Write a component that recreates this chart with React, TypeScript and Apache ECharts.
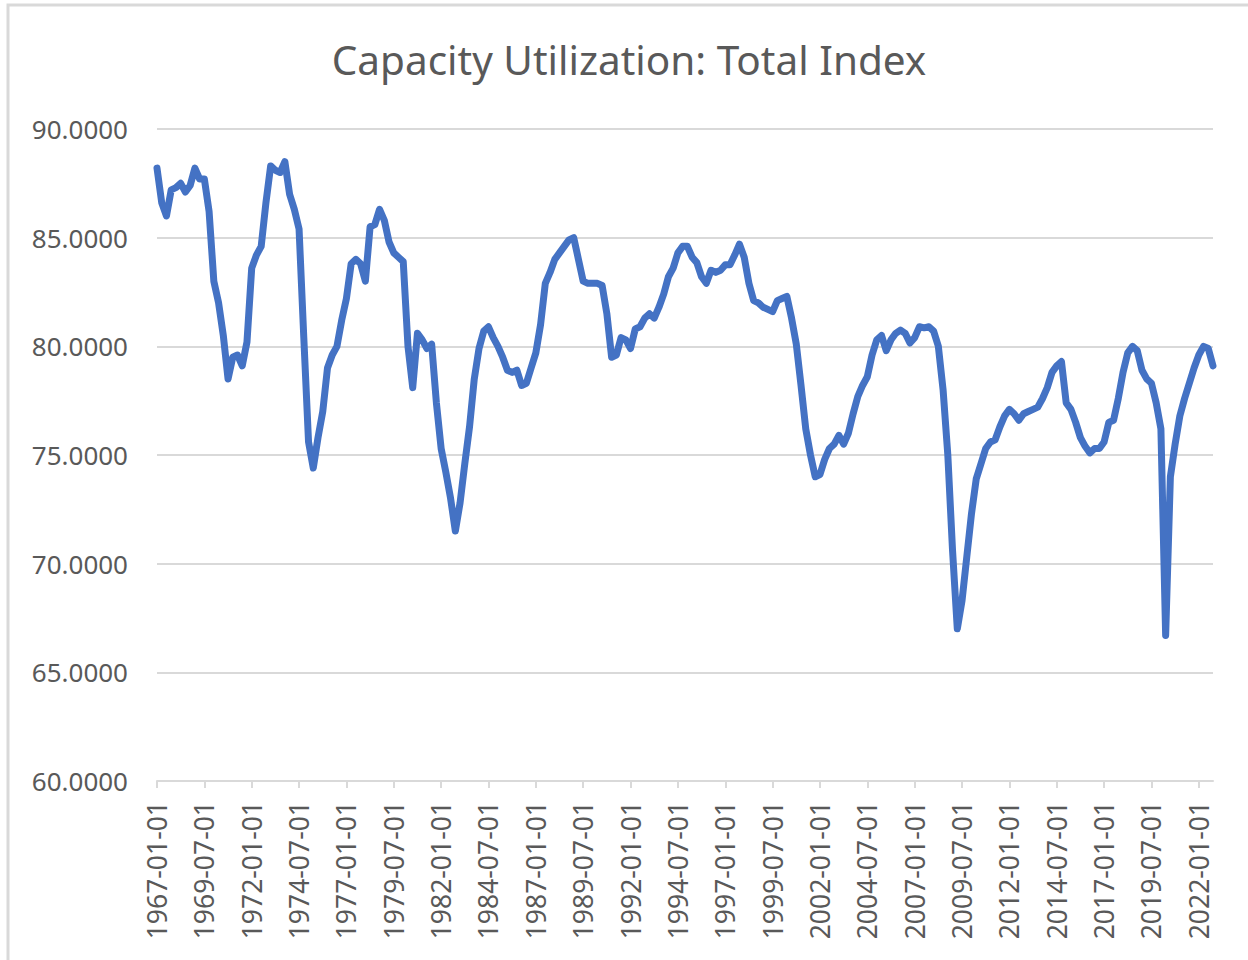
import React, { useEffect, useRef } from "react";
import * as echarts from "echarts";

const titleText = "Capacity Utilization: Total Index";
const startYear = 1967;
const quarterMonths = ["01", "04", "07", "10"];

// Quarterly capacity utilization readings, 1967-01-01 .. 2022-10-01
const values1967_1976 = [
  88.2, 86.6, 86.0, 87.2, 87.3, 87.5, 87.1, 87.4, 88.2, 87.7,
  87.7, 86.2, 83.0, 82.0, 80.5, 78.5, 79.5, 79.6, 79.1, 80.2,
  83.6, 84.2, 84.6, 86.6, 88.3, 88.1, 88.0, 88.5, 87.0, 86.3,
  85.4, 80.4, 75.6, 74.4, 75.8, 77.0, 79.0, 79.6, 80.0, 81.2,
];
const values1977_1986 = [
  82.2, 83.8, 84.0, 83.8, 83.0, 85.5, 85.6, 86.3, 85.8, 84.8,
  84.3, 84.1, 83.9, 80.0, 78.1, 80.6, 80.3, 79.9, 80.1, 77.4,
  75.3, 74.2, 73.0, 71.5, 72.8, 74.6, 76.3, 78.5, 79.9, 80.7,
  80.9, 80.4, 80.0, 79.5, 78.9, 78.8, 78.9, 78.2, 78.3, 79.0,
];
const values1987_1996 = [
  79.7, 81.0, 82.9, 83.4, 84.0, 84.3, 84.6, 84.9, 85.0, 84.0,
  83.0, 82.9, 82.9, 82.9, 82.8, 81.5, 79.5, 79.6, 80.4, 80.3,
  79.9, 80.8, 80.9, 81.3, 81.5, 81.3, 81.8, 82.4, 83.2, 83.6,
  84.3, 84.6, 84.6, 84.1, 83.85, 83.2, 82.9, 83.5, 83.4, 83.5,
];
const values1997_2006 = [
  83.75, 83.75, 84.2, 84.7, 84.1, 82.9, 82.1, 82.0, 81.8, 81.7,
  81.6, 82.1, 82.2, 82.3, 81.3, 80.1, 78.2, 76.2, 75.0, 74.0,
  74.1, 74.8, 75.3, 75.5, 75.9, 75.5, 76.0, 76.9, 77.7, 78.2,
  78.6, 79.6, 80.3, 80.5, 79.8, 80.3, 80.6, 80.75, 80.6, 80.15,
];
const values2007_2016 = [
  80.4, 80.9, 80.85, 80.9, 80.7, 80.0, 78.0, 75.0, 70.6, 67.0,
  68.3, 70.3, 72.3, 73.9, 74.6, 75.3, 75.6, 75.7, 76.3, 76.8,
  77.1, 76.9, 76.6, 76.9, 77.0, 77.1, 77.2, 77.6, 78.1, 78.8,
  79.1, 79.3, 77.4, 77.1, 76.5, 75.8, 75.4, 75.1, 75.3, 75.3,
];
const values2017_2022 = [
  75.6, 76.5, 76.6, 77.6, 78.8, 79.7, 80.0, 79.8, 78.9, 78.5,
  78.3, 77.4, 76.2, 66.7, 74.0, 75.5, 76.8, 77.6, 78.3, 79.0,
  79.6, 80.0, 79.9, 79.1,
];

const values = [
  ...values1967_1976,
  ...values1977_1986,
  ...values1987_1996,
  ...values1997_2006,
  ...values2007_2016,
  ...values2017_2022,
];

const categories: string[] = values.map((_, i) => {
  const y = startYear + Math.floor(i / 4);
  return `${y}-${quarterMonths[i % 4]}-01`;
});

const yTicks = [60, 65, 70, 75, 80, 85, 90];

const FONT = "'Noto Sans', 'Open Sans', sans-serif";
const TEXT = "#595959";
const GRIDC = "#d9d9d9";

export default function App() {
  const ref = useRef<HTMLDivElement>(null);
  useEffect(() => {
    if (!ref.current) return;
    const chart = echarts.init(ref.current, undefined, { renderer: "svg" });
    chart.setOption({
      animation: false,
      backgroundColor: "#ffffff",
      graphic: [
        {
          type: "rect",
          shape: { x: 8, y: 5, width: 1280, height: 1000 },
          style: { fill: "none", stroke: GRIDC, lineWidth: 3 },
          silent: true,
        },
        {
          type: "text",
          x: 629,
          y: 39,
          style: {
            text: titleText,
            fontSize: 40.5,
            fontFamily: FONT,
            fill: TEXT,
            textAlign: "center",
            textVerticalAlign: "top",
          },
        },
      ],
      grid: { left: 157, right: 35, top: 129, bottom: 179, containLabel: false },
      xAxis: {
        type: "category",
        data: categories,
        boundaryGap: false,
        axisLine: { show: true, lineStyle: { color: GRIDC, width: 2 } },
        axisTick: {
          show: true,
          interval: 9,
          length: 7,
          lineStyle: { color: GRIDC, width: 2 },
        },
        axisLabel: {
          interval: 9,
          rotate: 90,
          margin: 20,
          fontSize: 26.5,
          fontFamily: FONT,
          color: TEXT,
        },
        splitLine: { show: false },
      },
      yAxis: {
        type: "value",
        min: yTicks[0],
        max: yTicks[yTicks.length - 1],
        interval: 5,
        axisLine: { show: false },
        axisTick: { show: false },
        axisLabel: {
          formatter: (v: number) => v.toFixed(4),
          fontSize: 26,
          fontFamily: FONT,
          color: TEXT,
          margin: 29,
        },
        splitLine: { show: true, lineStyle: { color: GRIDC, width: 2 } },
      },
      series: [
        {
          type: "line",
          data: values,
          showSymbol: false,
          symbol: "none",
          smooth: false,
          lineStyle: { color: "#4472C4", width: 7, cap: "round", join: "round" },
        },
      ],
    });
    return () => chart.dispose();
  }, []);
  return (
    <div
      ref={ref}
      style={{ position: "absolute", left: 0, top: 0, width: 1248, height: 960 }}
    />
  );
}
